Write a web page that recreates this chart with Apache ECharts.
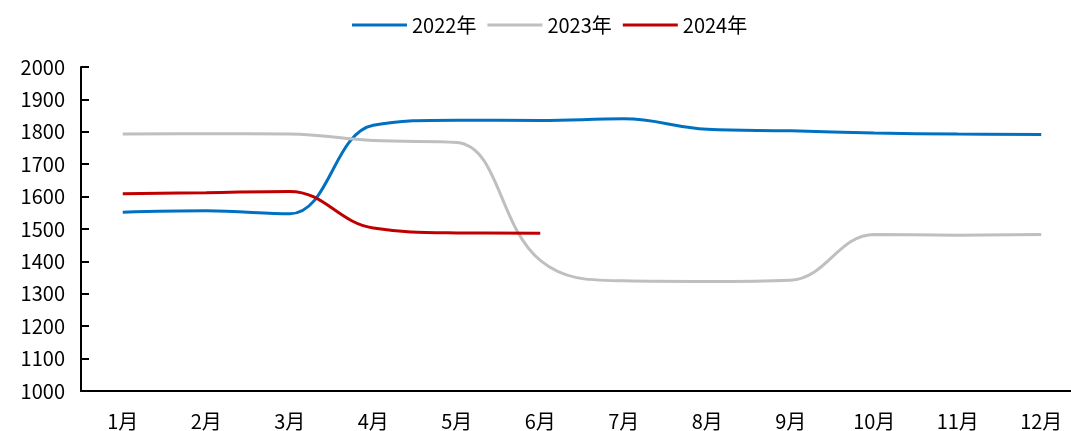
<!DOCTYPE html>
<html>
<head>
<meta charset="utf-8">
<script src="https://cdn.jsdelivr.net/npm/echarts@6/dist/echarts.min.js"></script>
<style>
  html, body { margin: 0; padding: 0; background: #fff; }
  #chart { width: 1071px; height: 431px; }
</style>
</head>
<body>
<div id="chart"></div>
<script>
// 月份
var months = ["1月", "2月", "3月", "4月", "5月", "6月", "7月", "8月", "9月", "10月", "11月", "12月"];
// 各年数据
var data2022 = [1552, 1556, 1547, 1820, 1836, 1835, 1840, 1808, 1803, 1796, 1793, 1792];
var data2023 = [1793, 1794, 1793, 1773, 1767, 1403, 1340, 1338, 1342, 1483, 1481, 1483];
var data2024 = [1609, 1612, 1616, 1503, 1488, 1487];
var seriesNames = ["2022年", "2023年", "2024年"];
var colors = ["#0070C0", "#BFBFBF", "#C00000"];

var font = "'Noto Sans CJK SC', 'Noto Sans', sans-serif";

function makeSeries(name, values, color) {
  return {
    name: name,
    type: "line",
    data: values,
    smooth: 0.4,
    symbol: "none",
    lineStyle: { width: 3, color: color },
    itemStyle: { color: color }
  };
}

var chart = echarts.init(document.getElementById("chart"));
chart.setOption({
  animation: false,
  textStyle: { fontFamily: font },
  legend: {
    left: 347,
    top: 10,
    icon: "rect",
    itemWidth: 55,
    itemHeight: 3,
    itemGap: 11,
    textStyle: { fontSize: 20, color: "#000", fontFamily: font },
    data: seriesNames
  },
  grid: { left: 81, width: 1002, top: 67, bottom: 40, outerBoundsMode: "none", containLabel: false },
  xAxis: {
    type: "category",
    data: months,
    boundaryGap: true,
    axisLine: { lineStyle: { color: "#000", width: 2 } },
    axisTick: { inside: true, length: 8, lineStyle: { color: "#000", width: 2 } },
    axisLabel: { fontSize: 20, color: "#000", margin: 20, fontFamily: font },
    splitLine: { show: false }
  },
  yAxis: {
    type: "value",
    min: 1000,
    max: 2000,
    interval: 100,
    axisLine: { show: true, lineStyle: { color: "#000", width: 2 } },
    axisTick: { show: true, inside: true, length: 8, lineStyle: { color: "#000", width: 2 } },
    axisLabel: {
      fontSize: 20, color: "#000", margin: 16, fontFamily: font,
      formatter: function (v) { return String(v); }
    },
    splitLine: { show: false }
  },
  series: [
    makeSeries(seriesNames[0], data2022, colors[0]),
    makeSeries(seriesNames[1], data2023, colors[1]),
    makeSeries(seriesNames[2], data2024, colors[2])
  ]
});
</script>
</body>
</html>
